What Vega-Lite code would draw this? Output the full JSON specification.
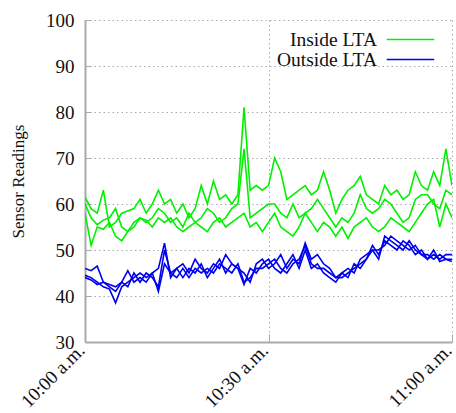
{
  "$schema": "https://vega.github.io/schema/vega-lite/v6.json",
  "autosize": "none",
  "width": 367,
  "height": 322,
  "padding": {"left": 85, "top": 20, "right": 4, "bottom": 71},
  "background": "white",
  "config": {
    "font": "Liberation Serif",
    "view": {"stroke": null},
    "axis": {
      "labelFont": "Liberation Serif",
      "titleFont": "Liberation Serif",
      "labelFontSize": 19,
      "titleFontSize": 17,
      "titleFontWeight": "normal",
      "labelColor": "#111",
      "titleColor": "#111",
      "domainColor": "#aaaaaa",
      "domainWidth": 2,
      "tickColor": "#aaaaaa",
      "gridColor": "#aaaaaa",
      "gridDash": [1.5, 3],
      "gridWidth": 1
    },
    "legend": {
      "labelFont": "Liberation Serif",
      "labelFontSize": 19.5,
      "labelColor": "#111"
    }
  },
  "data": {"values": [
{"m":0,"s":"Inside LTA","id":"A","v":61.5},{"m":1,"s":"Inside LTA","id":"A","v":59},{"m":2,"s":"Inside LTA","id":"A","v":58},{"m":3,"s":"Inside LTA","id":"A","v":63},{"m":4,"s":"Inside LTA","id":"A","v":55},{"m":5,"s":"Inside LTA","id":"A","v":56},{"m":6,"s":"Inside LTA","id":"A","v":58},{"m":7,"s":"Inside LTA","id":"A","v":58.5},{"m":8,"s":"Inside LTA","id":"A","v":59},{"m":9,"s":"Inside LTA","id":"A","v":61},{"m":10,"s":"Inside LTA","id":"A","v":58},{"m":11,"s":"Inside LTA","id":"A","v":60},{"m":12,"s":"Inside LTA","id":"A","v":63},{"m":13,"s":"Inside LTA","id":"A","v":60},{"m":14,"s":"Inside LTA","id":"A","v":61},{"m":15,"s":"Inside LTA","id":"A","v":58},{"m":16,"s":"Inside LTA","id":"A","v":60},{"m":17,"s":"Inside LTA","id":"A","v":57},{"m":18,"s":"Inside LTA","id":"A","v":59},{"m":19,"s":"Inside LTA","id":"A","v":64},{"m":20,"s":"Inside LTA","id":"A","v":60},{"m":21,"s":"Inside LTA","id":"A","v":65},{"m":22,"s":"Inside LTA","id":"A","v":61},{"m":23,"s":"Inside LTA","id":"A","v":62},{"m":24,"s":"Inside LTA","id":"A","v":60},{"m":25,"s":"Inside LTA","id":"A","v":62},{"m":26,"s":"Inside LTA","id":"A","v":81},{"m":27,"s":"Inside LTA","id":"A","v":63},{"m":28,"s":"Inside LTA","id":"A","v":64},{"m":29,"s":"Inside LTA","id":"A","v":63},{"m":30,"s":"Inside LTA","id":"A","v":64},{"m":31,"s":"Inside LTA","id":"A","v":70},{"m":32,"s":"Inside LTA","id":"A","v":67},{"m":33,"s":"Inside LTA","id":"A","v":61},{"m":34,"s":"Inside LTA","id":"A","v":62},{"m":35,"s":"Inside LTA","id":"A","v":63},{"m":36,"s":"Inside LTA","id":"A","v":64},{"m":37,"s":"Inside LTA","id":"A","v":62},{"m":38,"s":"Inside LTA","id":"A","v":63},{"m":39,"s":"Inside LTA","id":"A","v":67},{"m":40,"s":"Inside LTA","id":"A","v":63},{"m":41,"s":"Inside LTA","id":"A","v":58},{"m":42,"s":"Inside LTA","id":"A","v":61},{"m":43,"s":"Inside LTA","id":"A","v":63},{"m":44,"s":"Inside LTA","id":"A","v":64},{"m":45,"s":"Inside LTA","id":"A","v":66},{"m":46,"s":"Inside LTA","id":"A","v":62},{"m":47,"s":"Inside LTA","id":"A","v":61},{"m":48,"s":"Inside LTA","id":"A","v":60},{"m":49,"s":"Inside LTA","id":"A","v":64},{"m":50,"s":"Inside LTA","id":"A","v":62},{"m":51,"s":"Inside LTA","id":"A","v":63},{"m":52,"s":"Inside LTA","id":"A","v":61},{"m":53,"s":"Inside LTA","id":"A","v":62},{"m":54,"s":"Inside LTA","id":"A","v":67},{"m":55,"s":"Inside LTA","id":"A","v":64},{"m":56,"s":"Inside LTA","id":"A","v":63},{"m":57,"s":"Inside LTA","id":"A","v":67},{"m":58,"s":"Inside LTA","id":"A","v":64},{"m":59,"s":"Inside LTA","id":"A","v":72},{"m":60,"s":"Inside LTA","id":"A","v":64},
{"m":0,"s":"Inside LTA","id":"B","v":60},{"m":1,"s":"Inside LTA","id":"B","v":57},{"m":2,"s":"Inside LTA","id":"B","v":55.5},{"m":3,"s":"Inside LTA","id":"B","v":56.5},{"m":4,"s":"Inside LTA","id":"B","v":57},{"m":5,"s":"Inside LTA","id":"B","v":59},{"m":6,"s":"Inside LTA","id":"B","v":55},{"m":7,"s":"Inside LTA","id":"B","v":54},{"m":8,"s":"Inside LTA","id":"B","v":55},{"m":9,"s":"Inside LTA","id":"B","v":57},{"m":10,"s":"Inside LTA","id":"B","v":56},{"m":11,"s":"Inside LTA","id":"B","v":57},{"m":12,"s":"Inside LTA","id":"B","v":59},{"m":13,"s":"Inside LTA","id":"B","v":58},{"m":14,"s":"Inside LTA","id":"B","v":56},{"m":15,"s":"Inside LTA","id":"B","v":57},{"m":16,"s":"Inside LTA","id":"B","v":55},{"m":17,"s":"Inside LTA","id":"B","v":58},{"m":18,"s":"Inside LTA","id":"B","v":56},{"m":19,"s":"Inside LTA","id":"B","v":57},{"m":20,"s":"Inside LTA","id":"B","v":59},{"m":21,"s":"Inside LTA","id":"B","v":58},{"m":22,"s":"Inside LTA","id":"B","v":56},{"m":23,"s":"Inside LTA","id":"B","v":57},{"m":24,"s":"Inside LTA","id":"B","v":59},{"m":25,"s":"Inside LTA","id":"B","v":60},{"m":26,"s":"Inside LTA","id":"B","v":72},{"m":27,"s":"Inside LTA","id":"B","v":57},{"m":28,"s":"Inside LTA","id":"B","v":58},{"m":29,"s":"Inside LTA","id":"B","v":59},{"m":30,"s":"Inside LTA","id":"B","v":60},{"m":31,"s":"Inside LTA","id":"B","v":60},{"m":32,"s":"Inside LTA","id":"B","v":58},{"m":33,"s":"Inside LTA","id":"B","v":57},{"m":34,"s":"Inside LTA","id":"B","v":60},{"m":35,"s":"Inside LTA","id":"B","v":57},{"m":36,"s":"Inside LTA","id":"B","v":58},{"m":37,"s":"Inside LTA","id":"B","v":59},{"m":38,"s":"Inside LTA","id":"B","v":61},{"m":39,"s":"Inside LTA","id":"B","v":59},{"m":40,"s":"Inside LTA","id":"B","v":57},{"m":41,"s":"Inside LTA","id":"B","v":55},{"m":42,"s":"Inside LTA","id":"B","v":57},{"m":43,"s":"Inside LTA","id":"B","v":56},{"m":44,"s":"Inside LTA","id":"B","v":58},{"m":45,"s":"Inside LTA","id":"B","v":62},{"m":46,"s":"Inside LTA","id":"B","v":59},{"m":47,"s":"Inside LTA","id":"B","v":58},{"m":48,"s":"Inside LTA","id":"B","v":59},{"m":49,"s":"Inside LTA","id":"B","v":61},{"m":50,"s":"Inside LTA","id":"B","v":60},{"m":51,"s":"Inside LTA","id":"B","v":58},{"m":52,"s":"Inside LTA","id":"B","v":56},{"m":53,"s":"Inside LTA","id":"B","v":57},{"m":54,"s":"Inside LTA","id":"B","v":61},{"m":55,"s":"Inside LTA","id":"B","v":62},{"m":56,"s":"Inside LTA","id":"B","v":62},{"m":57,"s":"Inside LTA","id":"B","v":60},{"m":58,"s":"Inside LTA","id":"B","v":59},{"m":59,"s":"Inside LTA","id":"B","v":63},{"m":60,"s":"Inside LTA","id":"B","v":62},
{"m":0,"s":"Inside LTA","id":"C","v":58},{"m":1,"s":"Inside LTA","id":"C","v":51},{"m":2,"s":"Inside LTA","id":"C","v":55},{"m":3,"s":"Inside LTA","id":"C","v":54.5},{"m":4,"s":"Inside LTA","id":"C","v":56},{"m":5,"s":"Inside LTA","id":"C","v":53},{"m":6,"s":"Inside LTA","id":"C","v":52},{"m":7,"s":"Inside LTA","id":"C","v":54},{"m":8,"s":"Inside LTA","id":"C","v":56},{"m":9,"s":"Inside LTA","id":"C","v":57},{"m":10,"s":"Inside LTA","id":"C","v":56.5},{"m":11,"s":"Inside LTA","id":"C","v":55},{"m":12,"s":"Inside LTA","id":"C","v":57},{"m":13,"s":"Inside LTA","id":"C","v":56},{"m":14,"s":"Inside LTA","id":"C","v":57},{"m":15,"s":"Inside LTA","id":"C","v":55},{"m":16,"s":"Inside LTA","id":"C","v":54},{"m":17,"s":"Inside LTA","id":"C","v":55},{"m":18,"s":"Inside LTA","id":"C","v":56},{"m":19,"s":"Inside LTA","id":"C","v":55},{"m":20,"s":"Inside LTA","id":"C","v":54},{"m":21,"s":"Inside LTA","id":"C","v":56},{"m":22,"s":"Inside LTA","id":"C","v":57},{"m":23,"s":"Inside LTA","id":"C","v":55},{"m":24,"s":"Inside LTA","id":"C","v":56},{"m":25,"s":"Inside LTA","id":"C","v":57},{"m":26,"s":"Inside LTA","id":"C","v":58},{"m":27,"s":"Inside LTA","id":"C","v":55},{"m":28,"s":"Inside LTA","id":"C","v":56},{"m":29,"s":"Inside LTA","id":"C","v":54},{"m":30,"s":"Inside LTA","id":"C","v":56},{"m":31,"s":"Inside LTA","id":"C","v":58},{"m":32,"s":"Inside LTA","id":"C","v":55},{"m":33,"s":"Inside LTA","id":"C","v":54},{"m":34,"s":"Inside LTA","id":"C","v":53},{"m":35,"s":"Inside LTA","id":"C","v":55},{"m":36,"s":"Inside LTA","id":"C","v":58},{"m":37,"s":"Inside LTA","id":"C","v":56},{"m":38,"s":"Inside LTA","id":"C","v":54},{"m":39,"s":"Inside LTA","id":"C","v":56},{"m":40,"s":"Inside LTA","id":"C","v":55},{"m":41,"s":"Inside LTA","id":"C","v":53},{"m":42,"s":"Inside LTA","id":"C","v":55},{"m":43,"s":"Inside LTA","id":"C","v":52.5},{"m":44,"s":"Inside LTA","id":"C","v":55},{"m":45,"s":"Inside LTA","id":"C","v":56},{"m":46,"s":"Inside LTA","id":"C","v":57},{"m":47,"s":"Inside LTA","id":"C","v":55},{"m":48,"s":"Inside LTA","id":"C","v":54},{"m":49,"s":"Inside LTA","id":"C","v":55},{"m":50,"s":"Inside LTA","id":"C","v":57},{"m":51,"s":"Inside LTA","id":"C","v":56},{"m":52,"s":"Inside LTA","id":"C","v":55},{"m":53,"s":"Inside LTA","id":"C","v":54},{"m":54,"s":"Inside LTA","id":"C","v":56},{"m":55,"s":"Inside LTA","id":"C","v":58},{"m":56,"s":"Inside LTA","id":"C","v":60},{"m":57,"s":"Inside LTA","id":"C","v":61},{"m":58,"s":"Inside LTA","id":"C","v":55},{"m":59,"s":"Inside LTA","id":"C","v":60},{"m":60,"s":"Inside LTA","id":"C","v":57},
{"m":0,"s":"Outside LTA","id":"D","v":46},{"m":1,"s":"Outside LTA","id":"D","v":45.5},{"m":2,"s":"Outside LTA","id":"D","v":46.5},{"m":3,"s":"Outside LTA","id":"D","v":43},{"m":4,"s":"Outside LTA","id":"D","v":42.5},{"m":5,"s":"Outside LTA","id":"D","v":42},{"m":6,"s":"Outside LTA","id":"D","v":43},{"m":7,"s":"Outside LTA","id":"D","v":45.5},{"m":8,"s":"Outside LTA","id":"D","v":43},{"m":9,"s":"Outside LTA","id":"D","v":44},{"m":10,"s":"Outside LTA","id":"D","v":43},{"m":11,"s":"Outside LTA","id":"D","v":45},{"m":12,"s":"Outside LTA","id":"D","v":46},{"m":13,"s":"Outside LTA","id":"D","v":51.5},{"m":14,"s":"Outside LTA","id":"D","v":44},{"m":15,"s":"Outside LTA","id":"D","v":46},{"m":16,"s":"Outside LTA","id":"D","v":47},{"m":17,"s":"Outside LTA","id":"D","v":45},{"m":18,"s":"Outside LTA","id":"D","v":48},{"m":19,"s":"Outside LTA","id":"D","v":46},{"m":20,"s":"Outside LTA","id":"D","v":45},{"m":21,"s":"Outside LTA","id":"D","v":47},{"m":22,"s":"Outside LTA","id":"D","v":46},{"m":23,"s":"Outside LTA","id":"D","v":49},{"m":24,"s":"Outside LTA","id":"D","v":47},{"m":25,"s":"Outside LTA","id":"D","v":46},{"m":26,"s":"Outside LTA","id":"D","v":45},{"m":27,"s":"Outside LTA","id":"D","v":43},{"m":28,"s":"Outside LTA","id":"D","v":47},{"m":29,"s":"Outside LTA","id":"D","v":48},{"m":30,"s":"Outside LTA","id":"D","v":46},{"m":31,"s":"Outside LTA","id":"D","v":47},{"m":32,"s":"Outside LTA","id":"D","v":49},{"m":33,"s":"Outside LTA","id":"D","v":46},{"m":34,"s":"Outside LTA","id":"D","v":48},{"m":35,"s":"Outside LTA","id":"D","v":47},{"m":36,"s":"Outside LTA","id":"D","v":51.5},{"m":37,"s":"Outside LTA","id":"D","v":48},{"m":38,"s":"Outside LTA","id":"D","v":49},{"m":39,"s":"Outside LTA","id":"D","v":47},{"m":40,"s":"Outside LTA","id":"D","v":46},{"m":41,"s":"Outside LTA","id":"D","v":44},{"m":42,"s":"Outside LTA","id":"D","v":45},{"m":43,"s":"Outside LTA","id":"D","v":46},{"m":44,"s":"Outside LTA","id":"D","v":45},{"m":45,"s":"Outside LTA","id":"D","v":48},{"m":46,"s":"Outside LTA","id":"D","v":49},{"m":47,"s":"Outside LTA","id":"D","v":50},{"m":48,"s":"Outside LTA","id":"D","v":48},{"m":49,"s":"Outside LTA","id":"D","v":53},{"m":50,"s":"Outside LTA","id":"D","v":52},{"m":51,"s":"Outside LTA","id":"D","v":51},{"m":52,"s":"Outside LTA","id":"D","v":50},{"m":53,"s":"Outside LTA","id":"D","v":52},{"m":54,"s":"Outside LTA","id":"D","v":50},{"m":55,"s":"Outside LTA","id":"D","v":49},{"m":56,"s":"Outside LTA","id":"D","v":48},{"m":57,"s":"Outside LTA","id":"D","v":49},{"m":58,"s":"Outside LTA","id":"D","v":48},{"m":59,"s":"Outside LTA","id":"D","v":49},{"m":60,"s":"Outside LTA","id":"D","v":49},
{"m":0,"s":"Outside LTA","id":"E","v":44.5},{"m":1,"s":"Outside LTA","id":"E","v":44},{"m":2,"s":"Outside LTA","id":"E","v":43},{"m":3,"s":"Outside LTA","id":"E","v":42},{"m":4,"s":"Outside LTA","id":"E","v":41.5},{"m":5,"s":"Outside LTA","id":"E","v":38.5},{"m":6,"s":"Outside LTA","id":"E","v":42},{"m":7,"s":"Outside LTA","id":"E","v":43},{"m":8,"s":"Outside LTA","id":"E","v":44},{"m":9,"s":"Outside LTA","id":"E","v":45},{"m":10,"s":"Outside LTA","id":"E","v":44},{"m":11,"s":"Outside LTA","id":"E","v":45},{"m":12,"s":"Outside LTA","id":"E","v":41},{"m":13,"s":"Outside LTA","id":"E","v":47},{"m":14,"s":"Outside LTA","id":"E","v":45},{"m":15,"s":"Outside LTA","id":"E","v":46},{"m":16,"s":"Outside LTA","id":"E","v":44},{"m":17,"s":"Outside LTA","id":"E","v":46},{"m":18,"s":"Outside LTA","id":"E","v":45},{"m":19,"s":"Outside LTA","id":"E","v":47},{"m":20,"s":"Outside LTA","id":"E","v":44},{"m":21,"s":"Outside LTA","id":"E","v":46},{"m":22,"s":"Outside LTA","id":"E","v":48},{"m":23,"s":"Outside LTA","id":"E","v":45},{"m":24,"s":"Outside LTA","id":"E","v":47},{"m":25,"s":"Outside LTA","id":"E","v":46},{"m":26,"s":"Outside LTA","id":"E","v":42.5},{"m":27,"s":"Outside LTA","id":"E","v":46},{"m":28,"s":"Outside LTA","id":"E","v":45},{"m":29,"s":"Outside LTA","id":"E","v":47},{"m":30,"s":"Outside LTA","id":"E","v":48},{"m":31,"s":"Outside LTA","id":"E","v":46},{"m":32,"s":"Outside LTA","id":"E","v":45},{"m":33,"s":"Outside LTA","id":"E","v":47},{"m":34,"s":"Outside LTA","id":"E","v":49},{"m":35,"s":"Outside LTA","id":"E","v":46},{"m":36,"s":"Outside LTA","id":"E","v":50},{"m":37,"s":"Outside LTA","id":"E","v":46},{"m":38,"s":"Outside LTA","id":"E","v":47},{"m":39,"s":"Outside LTA","id":"E","v":45},{"m":40,"s":"Outside LTA","id":"E","v":44},{"m":41,"s":"Outside LTA","id":"E","v":43},{"m":42,"s":"Outside LTA","id":"E","v":45},{"m":43,"s":"Outside LTA","id":"E","v":44},{"m":44,"s":"Outside LTA","id":"E","v":47},{"m":45,"s":"Outside LTA","id":"E","v":46},{"m":46,"s":"Outside LTA","id":"E","v":48},{"m":47,"s":"Outside LTA","id":"E","v":51},{"m":48,"s":"Outside LTA","id":"E","v":49},{"m":49,"s":"Outside LTA","id":"E","v":52},{"m":50,"s":"Outside LTA","id":"E","v":51},{"m":51,"s":"Outside LTA","id":"E","v":50},{"m":52,"s":"Outside LTA","id":"E","v":52},{"m":53,"s":"Outside LTA","id":"E","v":51},{"m":54,"s":"Outside LTA","id":"E","v":49},{"m":55,"s":"Outside LTA","id":"E","v":50},{"m":56,"s":"Outside LTA","id":"E","v":48},{"m":57,"s":"Outside LTA","id":"E","v":50},{"m":58,"s":"Outside LTA","id":"E","v":47.5},{"m":59,"s":"Outside LTA","id":"E","v":48},{"m":60,"s":"Outside LTA","id":"E","v":48},
{"m":0,"s":"Outside LTA","id":"F","v":44},{"m":1,"s":"Outside LTA","id":"F","v":43.5},{"m":2,"s":"Outside LTA","id":"F","v":42.5},{"m":3,"s":"Outside LTA","id":"F","v":43},{"m":4,"s":"Outside LTA","id":"F","v":42},{"m":5,"s":"Outside LTA","id":"F","v":41},{"m":6,"s":"Outside LTA","id":"F","v":43},{"m":7,"s":"Outside LTA","id":"F","v":42},{"m":8,"s":"Outside LTA","id":"F","v":45},{"m":9,"s":"Outside LTA","id":"F","v":43},{"m":10,"s":"Outside LTA","id":"F","v":45},{"m":11,"s":"Outside LTA","id":"F","v":44},{"m":12,"s":"Outside LTA","id":"F","v":42},{"m":13,"s":"Outside LTA","id":"F","v":50},{"m":14,"s":"Outside LTA","id":"F","v":45},{"m":15,"s":"Outside LTA","id":"F","v":44},{"m":16,"s":"Outside LTA","id":"F","v":46},{"m":17,"s":"Outside LTA","id":"F","v":44},{"m":18,"s":"Outside LTA","id":"F","v":46},{"m":19,"s":"Outside LTA","id":"F","v":45},{"m":20,"s":"Outside LTA","id":"F","v":46},{"m":21,"s":"Outside LTA","id":"F","v":45},{"m":22,"s":"Outside LTA","id":"F","v":47},{"m":23,"s":"Outside LTA","id":"F","v":46},{"m":24,"s":"Outside LTA","id":"F","v":45},{"m":25,"s":"Outside LTA","id":"F","v":47},{"m":26,"s":"Outside LTA","id":"F","v":43},{"m":27,"s":"Outside LTA","id":"F","v":44},{"m":28,"s":"Outside LTA","id":"F","v":46},{"m":29,"s":"Outside LTA","id":"F","v":46},{"m":30,"s":"Outside LTA","id":"F","v":47},{"m":31,"s":"Outside LTA","id":"F","v":48},{"m":32,"s":"Outside LTA","id":"F","v":46},{"m":33,"s":"Outside LTA","id":"F","v":45},{"m":34,"s":"Outside LTA","id":"F","v":47},{"m":35,"s":"Outside LTA","id":"F","v":48},{"m":36,"s":"Outside LTA","id":"F","v":51},{"m":37,"s":"Outside LTA","id":"F","v":47},{"m":38,"s":"Outside LTA","id":"F","v":46},{"m":39,"s":"Outside LTA","id":"F","v":46},{"m":40,"s":"Outside LTA","id":"F","v":45},{"m":41,"s":"Outside LTA","id":"F","v":44},{"m":42,"s":"Outside LTA","id":"F","v":44},{"m":43,"s":"Outside LTA","id":"F","v":45},{"m":44,"s":"Outside LTA","id":"F","v":46},{"m":45,"s":"Outside LTA","id":"F","v":47},{"m":46,"s":"Outside LTA","id":"F","v":48},{"m":47,"s":"Outside LTA","id":"F","v":50},{"m":48,"s":"Outside LTA","id":"F","v":50},{"m":49,"s":"Outside LTA","id":"F","v":51},{"m":50,"s":"Outside LTA","id":"F","v":53},{"m":51,"s":"Outside LTA","id":"F","v":52},{"m":52,"s":"Outside LTA","id":"F","v":51},{"m":53,"s":"Outside LTA","id":"F","v":50},{"m":54,"s":"Outside LTA","id":"F","v":51},{"m":55,"s":"Outside LTA","id":"F","v":49},{"m":56,"s":"Outside LTA","id":"F","v":49},{"m":57,"s":"Outside LTA","id":"F","v":48},{"m":58,"s":"Outside LTA","id":"F","v":49},{"m":59,"s":"Outside LTA","id":"F","v":48},{"m":60,"s":"Outside LTA","id":"F","v":47.5}
  ]},
  "mark": {"type": "line", "strokeWidth": 1.6, "clip": true},
  "encoding": {
    "x": {
      "field": "m", "type": "quantitative",
      "scale": {"domain": [0, 60], "nice": false, "zero": false},
      "axis": {
        "title": null,
        "values": [0, 30, 60],
        "labelExpr": "datum.value == 0 ? '10:00 a.m.' : datum.value == 30 ? '10:30 a.m.' : '11:00 a.m.'",
        "labelAngle": -45,
        "labelAlign": "right",
        "labelBaseline": "middle",
        "labelPadding": 13,
        "labelOffset": -4,
        "tickSize": -8,
        "gridDash": [1.5, 3]
      }
    },
    "y": {
      "field": "v", "type": "quantitative",
      "scale": {"domain": [30, 100], "nice": false, "zero": false},
      "axis": {
        "title": "Sensor Readings",
        "values": [30, 40, 50, 60, 70, 80, 90, 100],
        "tickSize": -6,
        "labelPadding": 17,
        "titlePadding": 18
      }
    },
    "color": {
      "field": "s", "type": "nominal",
      "scale": {"domain": ["Inside LTA", "Outside LTA"], "range": ["#00f000", "#0000f0"]},
      "legend": {
        "title": null,
        "orient": "none",
        "legendX": 315,
        "legendY": 9,
        "symbolType": "M-2.5,0H2.5",
        "symbolSize": 361,
        "symbolStrokeWidth": 1.6,
        "symbolFillColor": "transparent",
        "labelAlign": "right",
        "labelOffset": -44,
        "rowPadding": 0,
        "padding": 0
      }
    },
    "detail": {"field": "id", "type": "nominal"}
  }
}
